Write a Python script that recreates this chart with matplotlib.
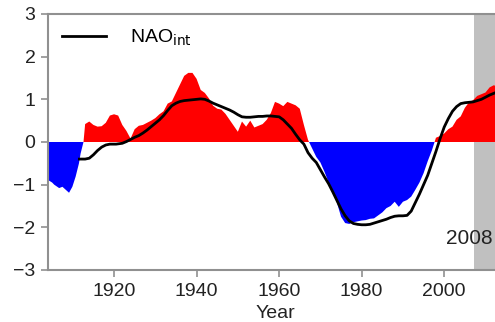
import numpy as np
from matplotlib import pyplot as plt

plt.rcParams['font.family'] = ['Liberation Sans', 'DejaVu Sans']

# smoothed NAO index (filled area)
fill_years = [1904, 1905, 1905.5, 1906.7, 1907.5, 1908.3, 1909.1, 1909.9, 1910.7, 1911.5, 1911.9, 1912.6,
              1913, 1914, 1915, 1916, 1917, 1918, 1919, 1920, 1921, 1922, 1923, 1924,
              1925, 1926, 1927, 1928, 1929, 1930, 1931, 1932, 1933, 1934, 1935, 1936,
              1937, 1938, 1939, 1940, 1941, 1942, 1943, 1944, 1945, 1946, 1947, 1948,
              1949, 1950, 1951, 1952, 1953, 1954, 1955, 1956, 1957, 1958, 1959, 1960,
              1961, 1962, 1963, 1964, 1965, 1966, 1967, 1968, 1969, 1970, 1971, 1972,
              1973, 1974, 1975, 1976, 1977, 1978, 1979, 1980, 1981, 1982, 1983, 1984,
              1985, 1986, 1987, 1988, 1989, 1990, 1991, 1992, 1993, 1994, 1995, 1996,
              1997, 1998, 1999, 2000, 2001, 2002, 2003, 2004, 2005, 2006, 2007, 2008,
              2009, 2010, 2011, 2012, 2013, 2014]
fill_vals = [-0.89, -0.95, -1.00, -1.08, -1.05, -1.12, -1.19, -1.05, -0.81, -0.50, -0.27, 0.0,
             0.42, 0.48, 0.40, 0.36, 0.37, 0.45, 0.62, 0.65, 0.62, 0.40, 0.26, 0.08,
             0.30, 0.38, 0.40, 0.45, 0.50, 0.56, 0.65, 0.72, 0.90, 0.95, 1.15, 1.35,
             1.55, 1.62, 1.62, 1.48, 1.22, 1.15, 1.02, 0.85, 0.78, 0.76, 0.66, 0.52,
             0.38, 0.24, 0.48, 0.36, 0.50, 0.34, 0.38, 0.42, 0.52, 0.68, 0.94, 0.90,
             0.84, 0.94, 0.90, 0.86, 0.78, 0.40, 0.05, -0.15, -0.35, -0.48, -0.70, -0.95,
             -1.15, -1.42, -1.75, -1.90, -1.92, -1.88, -1.86, -1.84, -1.83, -1.80, -1.79, -1.72,
             -1.65, -1.55, -1.50, -1.40, -1.52, -1.40, -1.36, -1.28, -1.12, -0.95, -0.73, -0.45,
             -0.20, 0.10, 0.14, 0.20, 0.30, 0.36, 0.52, 0.60, 0.80, 0.93, 0.98, 1.08,
             1.12, 1.16, 1.28, 1.33, 1.30, 1.28]

# NAO_int line
int_years = [1911.6, 1913, 1914, 1915, 1916, 1917, 1918, 1919, 1920.5, 1922, 1923, 1924,
             1925, 1926, 1927, 1928, 1929, 1930, 1931, 1932, 1933, 1934, 1935, 1936,
             1937, 1938, 1939, 1940, 1941, 1942, 1943, 1944, 1945, 1946, 1947, 1948,
             1949, 1950, 1951, 1952, 1953, 1954, 1955, 1956, 1957, 1958, 1959, 1960,
             1961, 1962, 1963, 1964, 1965, 1966, 1967, 1968, 1969, 1970, 1971, 1972,
             1973, 1974, 1975, 1976, 1977, 1978, 1979, 1980, 1981, 1982, 1983, 1984,
             1985, 1986, 1987, 1988, 1989, 1990, 1991, 1992, 1993, 1994, 1995, 1996,
             1997, 1998, 1999, 2000, 2001, 2002, 2003, 2004, 2005, 2006, 2007, 2008,
             2009, 2010, 2011, 2012, 2013, 2014]
int_vals = [-0.40, -0.40, -0.38, -0.30, -0.20, -0.12, -0.07, -0.05, -0.05, -0.03, 0.01, 0.06,
            0.11, 0.15, 0.21, 0.28, 0.36, 0.44, 0.52, 0.62, 0.74, 0.85, 0.91, 0.95,
            0.97, 0.98, 0.99, 1.00, 1.01, 1.00, 0.96, 0.91, 0.87, 0.83, 0.79, 0.75,
            0.70, 0.64, 0.59, 0.58, 0.58, 0.59, 0.60, 0.60, 0.61, 0.61, 0.60, 0.59,
            0.52, 0.42, 0.32, 0.18, 0.05, -0.05, -0.25, -0.38, -0.48, -0.65, -0.82, -0.98,
            -1.17, -1.37, -1.57, -1.73, -1.85, -1.91, -1.93, -1.94, -1.94, -1.93, -1.90, -1.87,
            -1.84, -1.81, -1.77, -1.74, -1.73, -1.73, -1.72, -1.62, -1.42, -1.22, -1.00, -0.78,
            -0.50, -0.22, 0.08, 0.35, 0.55, 0.72, 0.83, 0.90, 0.92, 0.93, 0.94, 0.97,
            1.00, 1.05, 1.10, 1.14, 1.18, 1.20]

fy = np.array(fill_years)
fv = np.array(fill_vals)

fig = plt.figure(figsize=(4.95, 3.22), dpi=100)
ax = fig.add_axes([48 / 495, 52 / 322, 454 / 495, 256 / 322])

ax.axvspan(2007.3, 2016, color='#c0c0c0', lw=0, zorder=0)
ax.fill_between(fy, fv, 0, where=fv >= 0, interpolate=True, color='#ff0000', lw=0, zorder=1)
ax.fill_between(fy, fv, 0, where=fv <= 0, interpolate=True, color='#0000ff', lw=0, zorder=1)
ax.plot(int_years, int_vals, color='black', lw=2, label=r'NAO$_{\rm int}$', zorder=3)

ax.text(2000.4, -2.27, '2008', fontsize=15, ha='left', va='center', color='#222222', zorder=4)

ax.set_xlim(1904, 2014)
ax.set_ylim(-3, 3)
ax.set_xticks([1920, 1940, 1960, 1980, 2000])
ax.set_yticks([-3, -2, -1, 0, 1, 2, 3])
ax.set_xlabel('Year', fontsize=14, labelpad=4, color='#222222')

for s in ['left', 'bottom', 'top']:
    ax.spines[s].set_color('#909090')
    ax.spines[s].set_linewidth(1.5)
ax.spines['right'].set_visible(False)
ax.tick_params(direction='out', length=5, width=1.2, color='#909090',
               labelsize=14, labelcolor='#222222', pad=4)

ax.legend(loc='upper left', frameon=False, fontsize=14, handlelength=2.3,
          handletextpad=1.2, borderpad=0.1, borderaxespad=0.6)

plt.savefig('out.png', dpi=100)
